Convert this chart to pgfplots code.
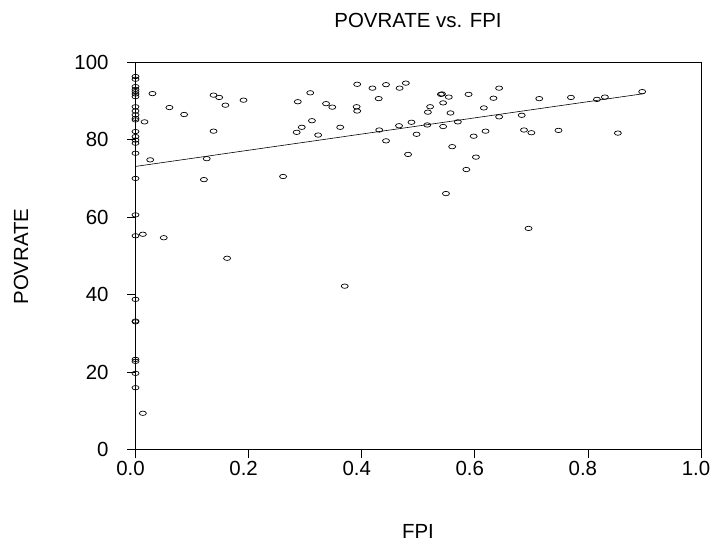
\documentclass[border=0pt]{standalone}
\usepackage{fontspec}
\setmainfont{Liberation Sans}
\usepackage{pgfplots}
\usepackage{pgfplotstable}
\pgfplotsset{compat=1.18}

% POVRATE against FPI, one row per county
\pgfplotstableread{
x y
0.000 96.3
0.000 95.6
0.000 93.7
0.000 93.0
0.000 92.4
0.000 91.8
0.000 91.1
0.000 88.5
0.000 87.4
0.000 86.4
0.000 85.5
0.000 85.1
0.000 82.1
0.000 80.8
0.000 79.9
0.000 79.1
0.000 76.5
0.000 70.0
0.000 60.6
0.000 55.2
0.000 38.8
0.000 33.0
0.000 33.2
0.000 23.3
0.000 22.8
0.000 19.7
0.000 16.0
0.013 9.4
0.013 55.6
0.050 54.7
0.162 49.4
0.370 42.2
0.695 57.1
0.549 66.1
0.016 84.6
0.026 74.8
0.030 91.9
0.060 88.3
0.086 86.5
0.121 69.7
0.126 75.1
0.138 91.5
0.138 82.2
0.148 90.9
0.159 88.9
0.191 90.2
0.261 70.5
0.285 81.9
0.287 89.8
0.294 83.2
0.309 92.1
0.312 84.9
0.323 81.2
0.337 89.3
0.348 88.4
0.362 83.2
0.391 88.5
0.392 87.4
0.392 94.3
0.419 93.3
0.430 90.6
0.431 82.5
0.443 94.2
0.443 79.7
0.466 83.6
0.467 93.3
0.478 94.6
0.482 76.2
0.488 84.5
0.497 81.4
0.516 83.8
0.517 87.1
0.521 88.5
0.540 91.7
0.542 91.8
0.544 89.5
0.544 83.4
0.554 91.0
0.557 86.9
0.560 78.2
0.570 84.6
0.585 72.3
0.589 91.7
0.598 80.9
0.602 75.5
0.616 88.2
0.619 82.2
0.633 90.7
0.643 93.3
0.643 85.9
0.683 86.3
0.687 82.5
0.700 81.8
0.714 90.6
0.748 82.4
0.770 90.9
0.816 90.4
0.830 91.0
0.853 81.7
0.896 92.4
}\povdata

\begin{document}
\begin{tikzpicture}
\useasboundingbox (0,0) rectangle (712bp,542bp);
\begin{axis}[
    at={(135.5bp,92.3bp)}, anchor=south west,
    scale only axis,
    width=565.5bp, height=387.5bp,
    xmin=0, xmax=1, ymin=0, ymax=100,
    xtick={0,0.2,0.4,0.6,0.8,1.0},
    ytick={0,20,40,60,80,100},
    x tick label style={/pgf/number format/fixed,
        /pgf/number format/fixed zerofill,
        /pgf/number format/precision=1, xshift=-5bp},
    /pgf/number format/assume math mode=true,
    tick align=outside, tick pos=left,
    major tick length=8.5bp,
    tick style={black, line width=0.8bp},
    axis line style={black, line width=1bp},
    ticklabel style={font=\fontsize{20.5}{20.5}\selectfont},
    y tick label style={xshift=-15bp},
    clip=false,
]
\addplot[only marks, mark=o, mark size=2.2bp,
    mark options={xscale=1.6, line width=0.7bp, black}] table {\povdata};
% fitted line
\addplot[black, line width=0.6bp] coordinates {(0,73.1) (0.9,91.9)};
\end{axis}
\node[font=\fontsize{20.5}{20.5}\selectfont, anchor=base] at (418bp,514bp) {POVRATE vs. FPI};
\node[font=\fontsize{20.5}{20.5}\selectfont, anchor=base, inner sep=0pt] at (418bp,4bp) {FPI};
\node[font=\fontsize{20.5}{20.5}\selectfont, rotate=90] at (21bp,285.5bp) {POVRATE};
\end{tikzpicture}
\end{document}
